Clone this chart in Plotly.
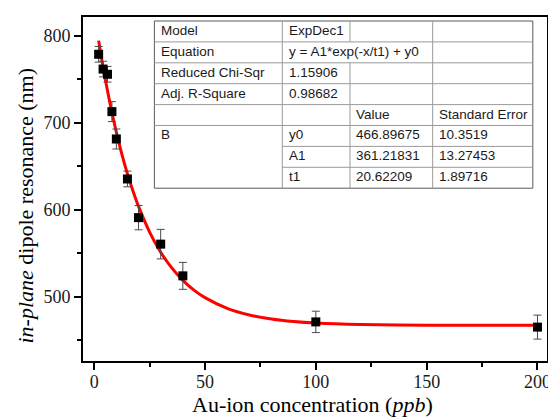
import plotly.graph_objects as go

# ---------------- data ----------------
conc = [2, 4, 6, 8, 10, 15, 20, 30, 40, 100, 200]
resonance = [779, 762, 756, 713, 681.5, 635.5, 591, 560.5, 524, 471, 465]
err = [9, 9, 9, 11.5, 11.5, 9, 14, 17, 15.5, 12.3, 13.8]

fit_x = [2, 3.5, 5, 7.5, 10, 12.5, 15, 17.5, 20, 25, 30, 35, 40, 45, 50,
         60, 70, 80, 90, 100, 120, 150, 200]
fit_y = [794.7, 771.5, 750.3, 718.0, 689.3, 663.9, 641.4, 621.6, 603.9, 574.4,
         551.2, 533.1, 518.8, 507.6, 498.9, 486.6, 479.0, 474.4, 471.5, 469.7,
         468.0, 467.2, 467.0]

table_rows = [
    ["Model", "ExpDec1", "", ""],
    ["Equation", "y = A1*exp(-x/t1) + y0", "", ""],
    ["Reduced Chi-Sqr", "1.15906", "", ""],
    ["Adj. R-Square", "0.98682", "", ""],
    ["", "", "Value", "Standard Error"],
    ["B", "y0", "466.89675", "10.3519"],
    ["", "A1", "361.21831", "13.27453"],
    ["", "t1", "20.62209", "1.89716"],
]

x_ticks = [0, 50, 100, 150, 200]
y_ticks = [500, 600, 700, 800]

# ---------------- layout geometry ----------------
# The page body has an 8px default margin, so the figure is made 8px smaller
# and all reference pixel positions are measured in the full-window frame.
OFF = 8
W, H = 556 - OFF, 417 - OFF
ML, MR, MT, MB = 83 - OFF, 5, 17 - OFF, 56
PW, PH = W - ML - MR, H - MT - MB
PLOT_LEFT, PLOT_BOTTOM = 83, 361   # in reference-window pixels


def px(xp):
    return (xp - PLOT_LEFT) / PW


def py(yp):
    return (PLOT_BOTTOM - yp) / PH


fig = go.Figure()

fig.add_trace(go.Scatter(
    x=fit_x, y=fit_y, mode="lines",
    line=dict(color="#ff0000", width=3, shape="spline", smoothing=0.8),
    hoverinfo="skip", showlegend=False))

fig.add_trace(go.Scatter(
    x=conc, y=resonance, mode="markers",
    marker=dict(symbol="square", size=9, color="black"),
    error_y=dict(type="data", array=err, visible=True,
                 color="#4a4a4a", thickness=1, width=4),
    showlegend=False))

# ---------------- table (drawn as shapes + annotations) ----------------
col_x = [155, 284, 352.3, 435.7, 536.7]
row_top = 21
row_h = 20.9
n_rows = len(table_rows)
row_y = [row_top + i * row_h for i in range(n_rows + 1)]

shapes = []
inner = dict(color="#9a9a9a", width=1)
shapes.append(dict(type="rect", xref="paper", yref="paper",
                   x0=px(col_x[0]), x1=px(col_x[-1]),
                   y0=py(row_y[0]), y1=py(row_y[-1]),
                   fillcolor="white", line=dict(color="#5a5a5a", width=1),
                   layer="above"))
for i in range(1, n_rows):
    x0 = col_x[0] if i <= 5 else col_x[1]
    shapes.append(dict(type="line", xref="paper", yref="paper",
                       x0=px(x0), x1=px(col_x[-1]),
                       y0=py(row_y[i]), y1=py(row_y[i]),
                       line=inner, layer="above"))
for j in range(1, 4):
    segs = [(0, n_rows)]
    if j == 2:
        segs = [(0, 1), (2, n_rows)]
    for a, b in segs:
        shapes.append(dict(type="line", xref="paper", yref="paper",
                           x0=px(col_x[j]), x1=px(col_x[j]),
                           y0=py(row_y[a]), y1=py(row_y[b]),
                           line=inner, layer="above"))

annotations = []
for i, row in enumerate(table_rows):
    yc = row_y[i] + row_h / 2 - 1
    for j, txt in enumerate(row):
        if not txt:
            continue
        annotations.append(dict(
            text=txt, xref="paper", yref="paper",
            x=px(col_x[j] + 4.5), y=py(yc), xanchor="left", yanchor="middle",
            showarrow=False,
            font=dict(family="Arial, Liberation Sans", size=13.5, color="#1a1a1a")))

annotations.append(dict(
    text="Au-ion concentration (<i>ppb</i>)", xref="paper", yref="paper",
    x=px(314), y=py(404), xanchor="center", yanchor="middle", showarrow=False,
    font=dict(family="Times New Roman, Liberation Serif", size=22, color="black")))
annotations.append(dict(
    text="<i>in-plane</i> dipole resonance (nm)", xref="paper", yref="paper",
    x=px(25), y=py(205), xanchor="center", yanchor="middle", showarrow=False,
    textangle=-90,
    font=dict(family="Times New Roman, Liberation Serif", size=22, color="black")))

tickfont = dict(family="Times New Roman, Liberation Serif", size=18, color="#1a1a1a")

fig.update_layout(
    width=W, height=H,
    margin=dict(l=ML, r=MR, t=MT, b=MB, pad=0),
    paper_bgcolor="white", plot_bgcolor="white",
    shapes=shapes, annotations=annotations,
    xaxis=dict(range=[-5.05, 204.3], tickvals=x_ticks, ticks="outside",
               ticklen=7, tickwidth=2, tickcolor="black",
               showline=True, linecolor="black", linewidth=2, mirror=True,
               showgrid=False, zeroline=False, tickfont=tickfont,
               ticklabelstandoff=-4,
               minor=dict(ticks="outside", ticklen=4, tickwidth=2,
                          tickcolor="black", tick0=25, dtick=50)),
    yaxis=dict(range=[426.0, 821.9], tickvals=y_ticks, ticks="outside",
               ticklen=7, tickwidth=2, tickcolor="black",
               showline=True, linecolor="black", linewidth=2, mirror=True,
               showgrid=False, zeroline=False, tickfont=tickfont,
               minor=dict(ticks="outside", ticklen=4, tickwidth=2,
                          tickcolor="black", tick0=450, dtick=100)),
)

fig.write_html("out.html")
